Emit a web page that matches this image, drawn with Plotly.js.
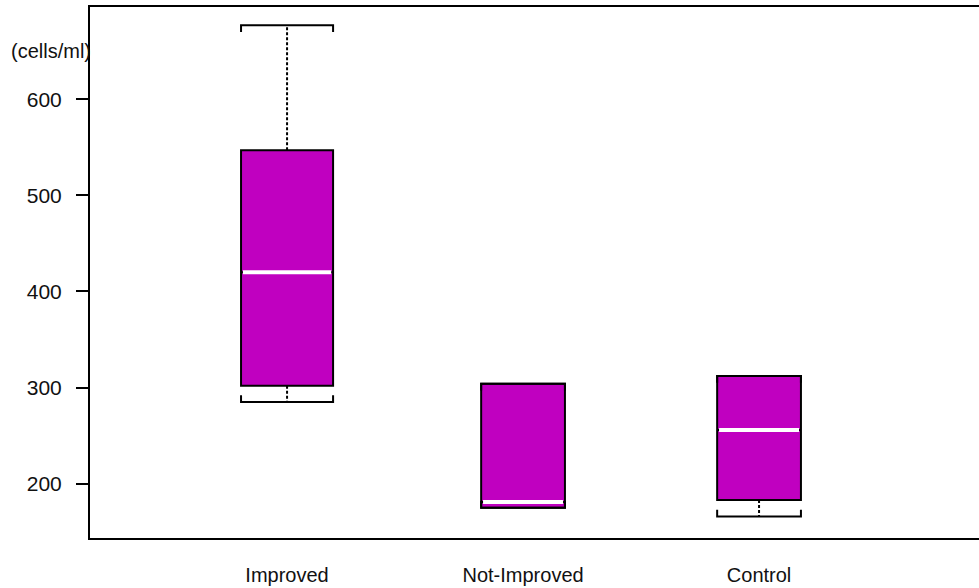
<!DOCTYPE html>
<html>
<head>
<meta charset="utf-8">
<script src="https://cdn.plot.ly/plotly-3.0.1.min.js"></script>
<style>html,body{margin:0;padding:0;background:#fff;}#chart{width:979px;height:588px;}</style>
</head>
<body>
<div id="chart"></div>
<script>
// ---- data ----
const categories = ['Improved', 'Not-Improved', 'Control'];
const lowerWhisker = [285, 175, 166];
const q1 = [302, 175, 183];
const median = [420, 181, 256];
const q3 = [547, 304, 312];
const upperWhisker = [677, 304, 312];
const yTicks = [200, 300, 400, 500, 600];
const unitLabel = '(cells/ml)';

// ---- style ----
const FILL = '#C000C0';
const BOX_W = [0.39, 0.355, 0.355];
const CAP_TICK = 7; // in y units
const FONT = 'Liberation Sans, Arial, sans-serif';

const traces = [];
categories.forEach((c, i) => {
  const hw = BOX_W[i] / 2;
  // whiskers (dotted)
  if (upperWhisker[i] > q3[i]) {
    traces.push({type: 'scatter', mode: 'lines', x: [i, i], y: [q3[i], upperWhisker[i]],
      line: {color: '#000', width: 2, dash: '3px,2px'}, hoverinfo: 'skip', showlegend: false});
  }
  if (lowerWhisker[i] < q1[i]) {
    traces.push({type: 'scatter', mode: 'lines', x: [i, i], y: [q1[i], lowerWhisker[i]],
      line: {color: '#000', width: 2, dash: '3px,2px'}, hoverinfo: 'skip', showlegend: false});
  }
  // caps (brackets)
  traces.push({type: 'scatter', mode: 'lines',
    x: [i - hw, i - hw, i + hw, i + hw],
    y: [upperWhisker[i] - CAP_TICK, upperWhisker[i], upperWhisker[i], upperWhisker[i] - CAP_TICK],
    line: {color: '#000', width: 2}, hoverinfo: 'skip', showlegend: false});
  traces.push({type: 'scatter', mode: 'lines',
    x: [i - hw, i - hw, i + hw, i + hw],
    y: [lowerWhisker[i] + CAP_TICK, lowerWhisker[i], lowerWhisker[i], lowerWhisker[i] + CAP_TICK],
    line: {color: '#000', width: 2}, hoverinfo: 'skip', showlegend: false});
  // box
  traces.push({type: 'box', x: [i], q1: [q1[i]], median: [median[i]], q3: [q3[i]],
    lowerfence: [q1[i]], upperfence: [q3[i]], width: BOX_W[i], boxpoints: false,
    fillcolor: FILL, line: {color: '#000', width: 2}, whiskerwidth: 0,
    hoverinfo: 'skip', showlegend: false});
  // white median line
  traces.push({type: 'scatter', mode: 'lines', x: [i - hw + 0.008, i + hw - 0.008], y: [median[i], median[i]],
    line: {color: '#fff', width: 4}, hoverinfo: 'skip', showlegend: false});
});

const layout = {
  width: 979, height: 588,
  margin: {l: 90, r: 0, t: 7, b: 50},
  paper_bgcolor: '#fff', plot_bgcolor: '#fff',
  showlegend: false, hovermode: false,
  boxmode: 'overlay',
  font: {family: FONT, color: '#111'},
  xaxis: {
    type: 'linear', range: [-0.835, 2.932],
    tickvals: categories.map((c, i) => i), ticktext: categories,
    showline: true, linewidth: 2, linecolor: '#000', mirror: true,
    showgrid: false, zeroline: false,
    ticks: 'outside', ticklen: 18, tickcolor: 'rgba(0,0,0,0)',
    tickfont: {size: 20, family: FONT, color: '#111'}
  },
  yaxis: {
    range: [143.5, 696],
    tickvals: yTicks, ticktext: yTicks.map(String),
    showline: true, linewidth: 2, linecolor: '#000',
    showgrid: false, zeroline: false,
    ticks: 'outside', ticklen: 12, tickwidth: 2, tickcolor: '#000',
    ticklabelstandoff: 10,
    tickfont: {size: 21, family: FONT, color: '#111'}
  },
  annotations: [{
    text: unitLabel, xref: 'paper', yref: 'y', x: 0, y: 650,
    xanchor: 'right', yanchor: 'middle', showarrow: false, xshift: 3,
    font: {size: 20, family: FONT, color: '#111'}
  }]
};

Plotly.newPlot('chart', traces, layout, {displayModeBar: false, staticPlot: true});
</script>
</body>
</html>
